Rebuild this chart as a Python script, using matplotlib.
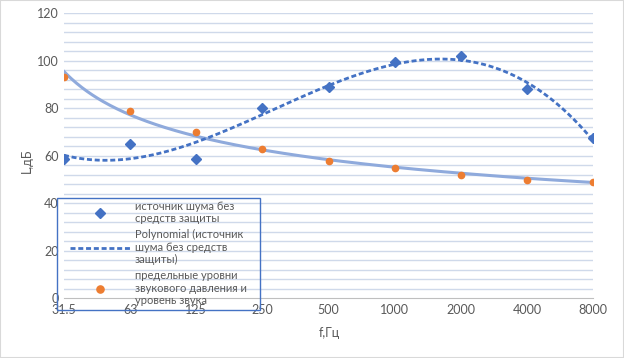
import numpy as np
import matplotlib.pyplot as plt
from matplotlib.patches import Rectangle

plt.rcParams['font.family'] = ['Lato', 'DejaVu Sans']

freqs = ['31.5', '63', '125', '250', '500', '1000', '2000', '4000', '8000']
noise = [58.5, 65, 58.5, 80, 88.8, 99.6, 102, 88, 67.5]
limits = [93, 79, 70, 63, 58, 55, 52, 50, 49]

text_color = '#595959'
blue = '#4472c4'
orange = '#ed7d31'

x = np.arange(1, len(freqs) + 1)
xs = np.linspace(1, len(freqs), 300)

# polynomial trendline for noise
poly = np.polyfit(x, noise, 4)
# power trendline for limits (Excel style)
b, ln_a = np.polyfit(np.log(x), np.log(limits), 1)

W, H = 624, 358
fig = plt.figure(figsize=(W / 100, H / 100), dpi=100)
ax = fig.add_axes([64 / W, 1 - 298.3 / H, 529 / W, 285 / H])

ax.set_ylim(0, 120)
ax.set_xlim(1, len(freqs))
for yv in np.arange(4, 121, 4):
    ax.axhline(yv, color='#cfd9ea', lw=1, zorder=0)

ax.plot(xs, np.exp(ln_a) * xs ** b, color='#8faadc', lw=2.2, zorder=2)
ax.plot(xs, np.polyval(poly, xs), color=blue, lw=2, dashes=(1.8, 1.0), zorder=3,
        label='Polynomial (источник\nшума без средств\nзащиты)')
ax.plot(x, noise, 'D', color=blue, ms=4.8, zorder=4,
        label='источник шума без\nсредств защиты')
ax.plot(x, limits, 'o', color=orange, ms=4.5, zorder=4,
        label='предельные уровни\nзвукового давления и\nуровень звука')

ax.set_xticks(x)
ax.set_xticklabels(freqs)
ax.set_yticks(np.arange(0, 121, 20))
ax.tick_params(length=0, labelsize=9, colors=text_color, pad=4)
for s in ['top', 'right', 'left']:
    ax.spines[s].set_visible(False)
ax.spines['bottom'].set_color('#bfbfbf')
ax.spines['bottom'].set_zorder(1)

h, l = ax.get_legend_handles_labels()
leg = ax.legend([h[1], h[0], h[2]], [l[1], l[0], l[2]],
                loc='upper left', bbox_to_anchor=(70 / W, 1 - 201 / H),
                bbox_transform=fig.transFigure, frameon=False, fontsize=8,
                handlelength=5.4, handletextpad=0.45, labelspacing=0.45,
                borderaxespad=0, borderpad=0, labelcolor=text_color, markerscale=1.15)
for t in leg.get_texts():
    t.set_linespacing(1.15)

fig.patches.append(Rectangle((57 / W, 1 - 310 / H), 203 / W, 112 / H,
                             transform=fig.transFigure, fill=False,
                             edgecolor=blue, lw=1, zorder=5))

fig.text(329 / W, 1 - 333 / H, 'f,Гц', ha='center', va='center', fontsize=9, color=text_color)
fig.text(27 / W, 1 - 161 / H, 'L,дБ', ha='center', va='center', rotation=90,
         fontsize=9, color=text_color)

fig.patches.append(Rectangle((0, 0), 1, 1, transform=fig.transFigure, fill=False,
                             edgecolor='#d9d9d9', lw=1.5))

plt.savefig('out.png', dpi=100)
